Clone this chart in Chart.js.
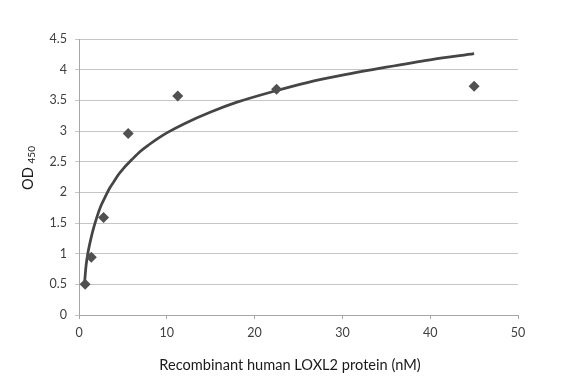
<!DOCTYPE html>
<html>
<head>
<meta charset="utf-8">
<script src="https://cdn.jsdelivr.net/npm/chart.js@4/dist/chart.umd.min.js"></script>
<style>
  html, body { margin: 0; padding: 0; background: #ffffff; }
  #wrap { width: 582px; height: 382px; }
</style>
</head>
<body>
<div id="wrap"><canvas id="c" width="582" height="382"></canvas></div>
<script>
// Measured data points (concentration nM, OD450)
const concentrations = [0.7, 1.4, 2.8, 5.6, 11.25, 22.5, 45];
const odValues = [0.50, 0.94, 1.59, 2.96, 3.57, 3.68, 3.73];

// Trend curve
const trendX = [0.65, 0.8, 1, 1.5, 2, 2.5, 3, 3.5, 4, 4.5, 5, 6, 7, 8, 9, 10, 12, 15, 18, 22, 26, 30, 35, 40, 45];
const trendY = [0.55, 0.80, 1.00, 1.33, 1.58, 1.78, 1.93, 2.07, 2.18, 2.29, 2.38, 2.53, 2.67, 2.78, 2.88, 2.97, 3.12, 3.31, 3.47, 3.64, 3.79, 3.91, 4.04, 4.16, 4.26];

// Tick labels
const xTickLabels = ['0', '10', '20', '30', '40', '50'];
const yTickLabels = ['0', '0.5', '1', '1.5', '2', '2.5', '3', '3.5', '4', '4.5'];

const xTitle = 'Recombinant human LOXL2 protein (nM)';
const yTitleMain = 'OD';
const yTitleSub = '450';

const FONT = 'Lato, "Open Sans", sans-serif';

const axisTitles = {
  id: 'axisTitles',
  afterDraw(chart) {
    const ctx = chart.ctx;
    ctx.save();
    ctx.fillStyle = '#1a1a1a';
    ctx.textBaseline = 'middle';
    ctx.textAlign = 'center';
    ctx.font = '14.6px ' + FONT;
    ctx.fillText(xTitle, 290, 365);

    // rotated y title with subscript
    ctx.translate(28, 168);
    ctx.rotate(-Math.PI / 2);
    ctx.font = '14.6px ' + FONT;
    const w1 = ctx.measureText(yTitleMain + ' ').width;
    ctx.font = '10px ' + FONT;
    const w2 = ctx.measureText(yTitleSub).width;
    const start = -(w1 + w2) / 2;
    ctx.textAlign = 'left';
    ctx.font = '14.6px ' + FONT;
    ctx.fillText(yTitleMain + ' ', start, 0);
    ctx.font = '10px ' + FONT;
    ctx.fillText(yTitleSub, start + w1, 4);
    ctx.restore();
  }
};

new Chart(document.getElementById('c'), {
  type: 'scatter',
  data: {
    datasets: [
      {
        label: 'Trend',
        type: 'line',
        data: trendX.map((x, i) => ({ x: x, y: trendY[i] })),
        borderColor: '#454545',
        borderWidth: 2.75,
        pointRadius: 0,
        cubicInterpolationMode: 'monotone',
        fill: false,
        order: 2
      },
      {
        label: 'OD450',
        data: concentrations.map((x, i) => ({ x: x, y: odValues[i] })),
        pointStyle: 'rectRot',
        pointRadius: 5.5,
        pointBackgroundColor: '#505050',
        pointBorderColor: '#505050',
        pointBorderWidth: 0,
        showLine: false,
        order: 1
      }
    ]
  },
  options: {
    responsive: false,
    animation: false,
    devicePixelRatio: 1,
    layout: { padding: { left: 0, top: 39, right: 64, bottom: 0 } },
    plugins: {
      legend: { display: false },
      tooltip: { enabled: false },
      title: { display: false }
    },
    scales: {
      x: {
        type: 'linear',
        min: 0,
        max: 50,
        afterFit(scale) { scale.height = 67; },
        afterBuildTicks(scale) {
          scale.ticks = xTickLabels.map(v => ({ value: Number(v) }));
        },
        ticks: {
          callback: (v, i) => xTickLabels[i],
          font: { family: FONT, size: 12.5 },
          color: '#404040',
          padding: 6,
          maxRotation: 0
        },
        grid: {
          drawOnChartArea: false,
          drawTicks: true,
          tickLength: 4,
          color: '#a6a6a6'
        },
        border: { display: true, color: '#a6a6a6', width: 1 }
      },
      y: {
        type: 'linear',
        min: 0,
        max: 4.5,
        afterFit(scale) { scale.width = 79; },
        afterBuildTicks(scale) {
          scale.ticks = yTickLabels.map(v => ({ value: Number(v) }));
        },
        ticks: {
          callback: (v, i) => yTickLabels[i],
          font: { family: FONT, size: 12.5 },
          color: '#404040',
          padding: 8
        },
        grid: {
          color: '#c6c6c6',
          lineWidth: 1,
          tickLength: 4,
          drawTicks: true
        },
        border: { display: true, color: '#a6a6a6', width: 1 }
      }
    }
  },
  plugins: [axisTitles]
});
</script>
</body>
</html>
